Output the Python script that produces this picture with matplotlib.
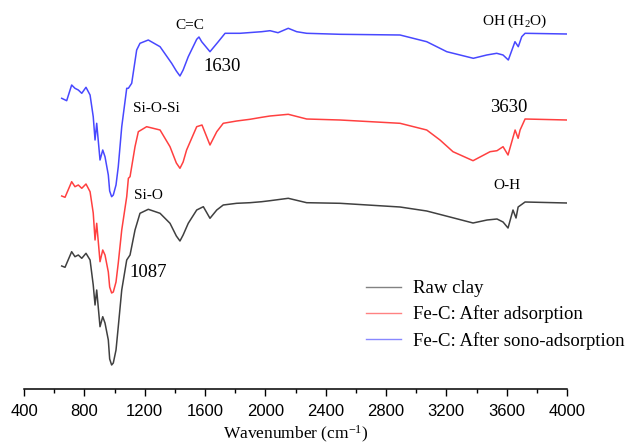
import numpy as np
import matplotlib.pyplot as plt

plt.rcParams['font.family'] = ['Liberation Serif', 'DejaVu Serif']
plt.rcParams['mathtext.fontset'] = 'custom'
plt.rcParams['mathtext.rm'] = 'Liberation Serif'
plt.rcParams['mathtext.it'] = 'Liberation Serif:italic'

# wavenumber (cm-1) and relative transmittance (a.u., offset stacked)
wn_raw = [650, 672, 716, 738, 760, 783, 811, 838, 859, 871, 882, 904, 922, 937, 959, 968, 981, 992, 1010,
          1025, 1048, 1081, 1103, 1136, 1169, 1224, 1302, 1368, 1410, 1434, 1455, 1489, 1545, 1589, 1633, 1678,
          1721, 1810, 1898, 1976, 2031, 2152, 2274, 2495, 2893, 3070, 3224, 3377, 3470, 3536, 3576,
          3609, 3642, 3662, 3676, 3722, 4000]
t_raw = [123, 121.7, 137.3, 132.3, 134, 130.7, 135.7, 129, 104, 84, 99, 62.3, 72.3, 66, 49, 30, 24, 26, 39,
         62.3, 99, 129, 134, 159, 175.7, 179.7, 175.7, 165.7, 153, 148, 154, 165.7, 179, 182.3, 170.7, 179,
         184, 185.7, 186.3, 187.3, 188.3, 190.7, 186.3, 185.7, 182, 178, 172, 166, 169, 170, 167,
         161, 179, 171, 182, 187, 186]

wn_ads = [650, 672, 716, 738, 760, 783, 811, 838, 859, 871, 882, 904, 922, 937, 959, 968, 981, 992, 1010,
          1025, 1048, 1081, 1092, 1103, 1136, 1158, 1213, 1302, 1368, 1410, 1434, 1455, 1478, 1545, 1580, 1633,
          1678, 1721, 1810, 1898, 1976, 2031, 2152, 2274, 2495, 2893, 3070, 3158, 3244, 3377, 3490,
          3536, 3576, 3609, 3656, 3676, 3689, 3722, 4000]
t_ads = [193, 191.7, 207.3, 202.3, 204, 200.7, 205, 197.3, 176, 149, 165.7, 127.3, 139, 134, 117, 102, 96, 97, 107,
         126, 159, 192.3, 210.7, 212.3, 242.3, 257.3, 262.3, 259, 242.3, 226, 220.7, 227, 239, 262.3, 264, 244,
         257.3, 265.7, 268, 269.7, 271.7, 273, 274.7, 270, 269, 265.7, 259, 249, 237.3, 228.3, 237.3,
         238.3, 242.3, 234, 259, 250.7, 259, 270, 269]

wn_sono = [650, 683, 716, 738, 760, 783, 811, 838, 859, 871, 882, 904, 922, 937, 959, 968, 981, 992, 1010,
           1025, 1048, 1081, 1092, 1114, 1147, 1169, 1224, 1302, 1379, 1410, 1434, 1455, 1489, 1545, 1560, 1578,
           1633, 1688, 1733, 1832, 1976, 2031, 2084, 2152, 2208, 2274, 2495, 2893, 3070, 3203, 3379,
           3468, 3534, 3576, 3611, 3655, 3677, 3700, 3722, 4000]
t_sono = [290.7, 288.3, 304, 300.7, 299, 295.7, 301.7, 294, 272.3, 249, 265.7, 229, 239, 232.3, 214, 198, 192.3, 194, 204,
          222.3, 262.3, 300.7, 300.7, 305.7, 339, 345.7, 349, 342.3, 325.7, 318, 313, 319, 332.3, 349.7, 352, 347.3,
          337.3, 347.3, 355.7, 355.7, 357.3, 358.3, 356.3, 360.7, 357.3, 355.7, 354.7, 354, 347.3, 337.3, 330.7,
          334, 335.7, 334, 329, 347.3, 342.3, 352.3, 355.7, 355]

labels = ['Raw clay', 'Fe-C: After adsorption', 'Fe-C: After sono-adsorption']
colors = ['#404040', '#ff4040', '#4848ff']

fig = plt.figure(figsize=(6.3, 4.44), dpi=100)
ax = fig.add_axes([24/630, 55/444, 543/630, 389/444])

ax.plot(wn_raw, t_raw, color=colors[0], lw=1.1, label=labels[0])
ax.plot(wn_ads, t_ads, color=colors[1], lw=1.1, label=labels[1])
ax.plot(wn_sono, t_sono, color=colors[2], lw=1.1, label=labels[2])

ax.set_xlim(400, 4000)
ax.set_ylim(0, 389)
ax.set_xticks(np.arange(400, 4001, 400))
ax.set_xticks(np.arange(600, 4000, 400), minor=True)
for s in ['left', 'top', 'right']:
    ax.spines[s].set_visible(False)
ax.spines['bottom'].set_linewidth(1.1)
ax.set_yticks([])
ax.tick_params(axis='x', which='major', length=5, width=1, pad=6, labelsize=12,
               labelfontfamily='Liberation Sans')
ax.tick_params(axis='x', which='minor', length=3, width=1)
ax.set_xlabel('Wavenumber (cm$^{-1}$)', fontsize=12.5, labelpad=3)

ax.text(1500, 364, 'C=C', fontsize=11, ha='center', va='center')
ax.text(1714, 323, '1630', fontsize=13.5, ha='center', va='center')
ax.text(1275, 281, 'Si-O-Si', fontsize=11, ha='center', va='center')
ax.text(1222, 194, 'Si-O', fontsize=11, ha='center', va='center')
ax.text(1225, 117, '1087', fontsize=13.5, ha='center', va='center')
ax.text(3655, 368, 'OH (H$_2$O)', fontsize=11, ha='center', va='center')
ax.text(3611, 282, '3630', fontsize=13.5, ha='center', va='center')
ax.text(3602, 204, 'O-H', fontsize=11, ha='center', va='center')

leg = ax.legend(loc='upper left', bbox_to_anchor=(366/630, 1 - 280/444), bbox_transform=fig.transFigure,
                frameon=False, fontsize=13.5, handlelength=1.87, handletextpad=0.64, labelspacing=0.45,
                borderpad=0, borderaxespad=0)
for ln in leg.get_lines():
    ln.set_alpha(0.65)
    ln.set_linewidth(1.0)

fig.savefig('out.png', dpi=100)
